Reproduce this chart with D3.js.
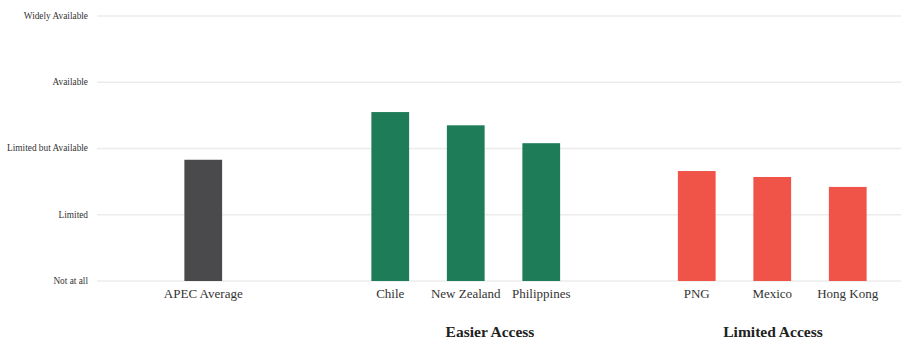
<!DOCTYPE html>
<html><head><meta charset="utf-8">
<script src="https://cdn.jsdelivr.net/npm/d3@7"></script>
<style>body{margin:0;background:#fff}svg{display:block}svg text{font-family:'Liberation Serif','Times New Roman',serif}</style>
</head><body>
<script>
const levelLabels = ["Not at all","Limited","Limited but Available","Available","Widely Available"];
const levelValues = [1,2,3,4,5];
const groups = ["", "Easier Access", "Limited Access"];
const categories = [
  ["APEC Average"],
  ["Chile","New Zealand","Philippines"],
  ["PNG","Mexico","Hong Kong"]
];
const values = [
  [2.83],
  [3.55, 3.35, 3.08],
  [2.66, 2.57, 2.42]
];
const colors = ["#4a4a4c", "#1e7c59", "#f05348"];

const W = 901, H = 339;
const svg = d3.select("body").append("svg").attr("width", W).attr("height", H);
const font = "'Liberation Serif','Times New Roman',serif";

const y = d3.scaleLinear().domain([1,5]).range([281,16]);

svg.append("g").selectAll("line").data(levelValues).join("line")
  .attr("x1", 97).attr("x2", 901)
  .attr("y1", d => y(d)).attr("y2", d => y(d))
  .attr("stroke", "#ececec").attr("stroke-width", 1.5);
svg.append("g").selectAll("text").data(levelValues).join("text")
  .attr("x", 88).attr("y", d => y(d)).attr("dy", "0.32em")
  .attr("text-anchor", "end")
  .style("font-family", font).style("font-size", "9.3px").attr("fill", "#333")
  .text((d,i) => levelLabels[i]);

const groupRanges = [[165.5,241], [352.5,579], [659,885.5]];
const groupLabelX = [null, 490, 773];

groups.forEach((g, gi) => {
  const x = d3.scaleBand().domain(categories[gi]).range(groupRanges[gi]).paddingInner(0.5).paddingOuter(0.25);
  const data = categories[gi].map((c,i) => ({c, v: values[gi][i]}));
  svg.append("g").selectAll("rect").data(data).join("rect")
    .attr("x", d => x(d.c)).attr("width", x.bandwidth())
    .attr("y", d => y(d.v)).attr("height", d => y(1) - y(d.v))
    .attr("fill", colors[gi]);
  const ax = svg.append("g").attr("transform", `translate(0,${y(1)})`)
    .call(d3.axisBottom(x).tickSize(0).tickPadding(8));
  ax.attr("font-family", null).attr("font-size", null);
  ax.select(".domain").remove();
  ax.selectAll("text").style("font-family", font).style("font-size", "13px").attr("fill", "#333");
  if (g) {
    svg.append("text").attr("x", groupLabelX[gi]).attr("y", 337)
      .attr("text-anchor", "middle").style("font-family", font)
      .style("font-weight", "bold").style("font-size", "15.5px").attr("fill", "#222")
      .text(g);
  }
});
</script>
</body></html>
